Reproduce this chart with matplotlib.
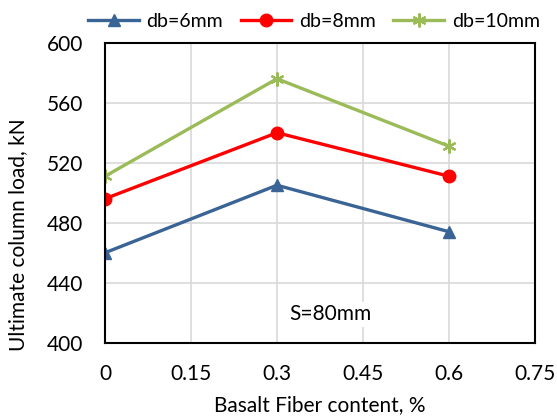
import numpy as np
import matplotlib.pyplot as plt

plt.rcParams['font.family'] = ['Lato', 'DejaVu Sans']

fiber = [0, 0.3, 0.6]
load_db6 = [460, 505, 474]
load_db8 = [496, 540, 511]
load_db10 = [511, 576, 531]
labels = ['db=6mm', 'db=8mm', 'db=10mm']

fig = plt.figure(figsize=(5.57, 4.19), dpi=100)
ax = fig.add_axes([0.1885, 0.182, 0.772, 0.716])

ax.plot(fiber, load_db6, '-^', color='#3A6496', lw=2.4, ms=9, label=labels[0])
ax.plot(fiber, load_db8, '-o', color='#FF0000', lw=2.4, ms=9, label=labels[1])
ax.plot(fiber, load_db10, '-', marker=(6, 2, 0), color='#9BBB59', lw=2.4, ms=10, mew=1.6,
        label=labels[2])

ax.set_xlim(0, 0.75)
ax.set_ylim(400, 600)
ax.set_xticks([0, 0.15, 0.3, 0.45, 0.6, 0.75])
ax.set_xticklabels(['0', '0.15', '0.3', '0.45', '0.6', '0.75'])
ax.set_yticks(np.arange(400, 601, 40))
ax.grid(True, color='#D9D9D9', lw=1.2)
ax.set_axisbelow(True)
ax.tick_params(length=0, labelsize=15)
ax.tick_params(axis='x', pad=15)
ax.tick_params(axis='y', pad=16)
for s in ax.spines.values():
    s.set_linewidth(1.5)
    s.set_color('black')

ax.set_xlabel('Basalt Fiber content, %', fontsize=15)
ax.set_ylabel('Ultimate column load, kN', fontsize=15)
ax.xaxis.set_label_coords(0.5, -0.175)
ax.yaxis.set_label_coords(-0.18, 0.36)

ax.text(0.394, 419, 'S=80mm', fontsize=15, ha='center', va='center',
        bbox=dict(facecolor='white', edgecolor='none', pad=2))

ax.legend(loc='lower center', bbox_to_anchor=(0.486, 1.0), ncol=3, frameon=False,
          fontsize=14, handlelength=2.6, columnspacing=0.9, handletextpad=0.4,
          borderaxespad=0.25)

fig.savefig('out.png', dpi=100)
